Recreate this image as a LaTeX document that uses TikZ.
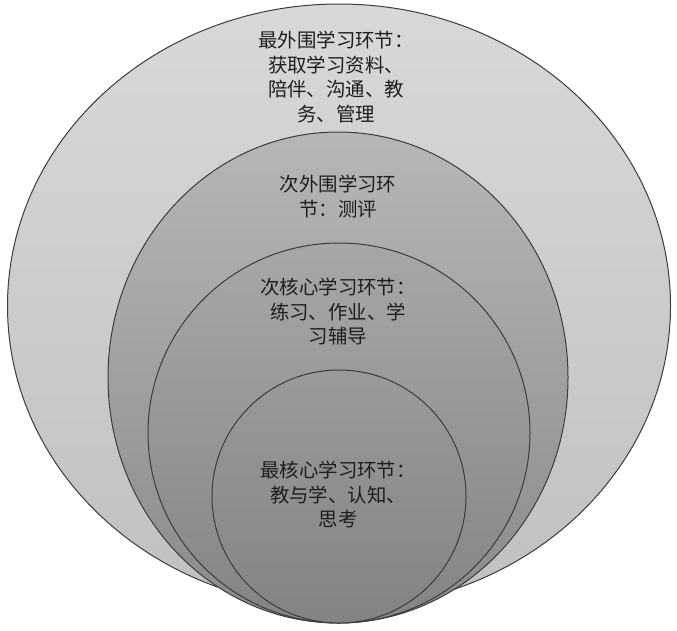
\documentclass[tikz,border=0pt]{standalone}
\usepackage{fontspec}
\newfontfamily\cjk{Noto Sans CJK SC}
\usetikzlibrary{shapes.geometric}
\definecolor{lineC}{HTML}{3C3C3C}
\definecolor{txtC}{HTML}{1E1E1E}
\definecolor{o1t}{HTML}{D8D8D8}\definecolor{o1b}{HTML}{C0C0C0}
\definecolor{o2t}{HTML}{B6B6B6}\definecolor{o2b}{HTML}{8A8A8A}
\definecolor{o3t}{HTML}{A7A7A7}\definecolor{o3b}{HTML}{848484}
\definecolor{o4t}{HTML}{9A9A9A}\definecolor{o4b}{HTML}{838383}
\tikzset{
  ring/.style={ellipse, draw=lineC, line width=1pt, inner sep=0pt, outer sep=0pt},
  lbl/.style={font=\cjk\fontsize{19.4}{24.5}\selectfont, text=txtC, align=center, inner sep=0pt}
}
\begin{document}
\begin{tikzpicture}[x=1pt,y=-1pt]
\useasboundingbox (0,0) rectangle (677,630);
\node[ring, minimum width=663pt, minimum height=604pt, top color=o1t, bottom color=o1b] (c1) at (339,306) {};
\node[ring, minimum width=460pt, minimum height=491pt, top color=o2t, bottom color=o2b] (c2) at (338,377.5) {};
\node[ring, minimum width=382pt, minimum height=380pt, top color=o3t, bottom color=o3b] (c3) at (339,433) {};
\node[ring, minimum width=254pt, minimum height=253pt, top color=o4t, bottom color=o4b] (c4) at (339,496.5) {};
\node[lbl, anchor=north] (t1) at (336,31) {最外围学习环节：\\获取学习资料、\\陪伴、沟通、教\\务、管理};
\node[lbl, anchor=north] (t2) at (338,175) {次外围学习环\\节：测评};
\node[lbl, anchor=north] (t3) at (338,278) {次核心学习环节：\\练习、作业、学\\习辅导};
\node[lbl, anchor=north] (t4) at (338,461) {最核心学习环节：\\教与学、认知、\\思考};
\end{tikzpicture}
\end{document}
